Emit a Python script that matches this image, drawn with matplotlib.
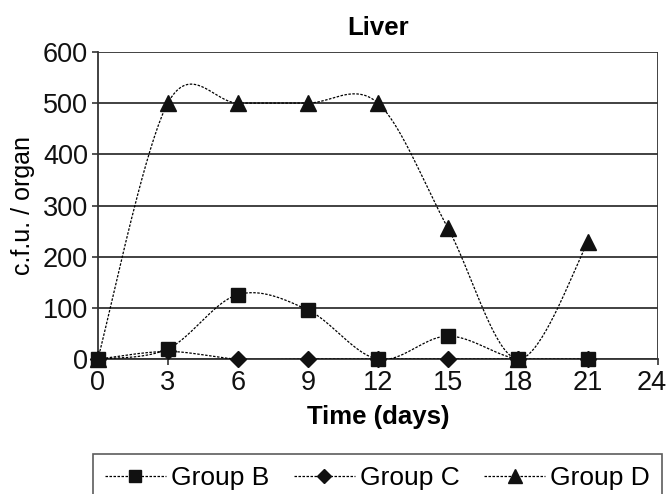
import matplotlib
matplotlib.use("Agg")
import matplotlib.pyplot as plt
from matplotlib.lines import Line2D
from matplotlib.transforms import ScaledTranslation
import numpy as np

plt.rcParams["font.family"] = ["Liberation Sans", "DejaVu Sans"]

days = [0, 3, 6, 9, 12, 15, 18, 21]
group_b = [0, 20, 126, 96, 0, 45, 0, 0]
group_c = [0, 15, 0, 0, 0, 0, 0, 0]
group_d = [0, 500, 500, 500, 500, 256, 0, 228]

series_names = ["Group B", "Group C", "Group D"]
series_markers = ["s", "D", "^"]
series_sizes = [10, 8, 12]


def smooth(x, y, n=40):
    """Excel-style smoothed line: Bezier segments with Catmull-Rom controls."""
    p = np.column_stack([x, y]).astype(float)
    p = np.vstack([p[0], p, p[-1]])
    out = []
    t = np.linspace(0, 1, n)[:, None]
    for i in range(1, len(p) - 2):
        p0, p3 = p[i], p[i + 1]
        c1 = p0 + (p[i + 1] - p[i - 1]) / 6.0
        c2 = p3 - (p[i + 2] - p[i]) / 6.0
        seg = ((1 - t) ** 3 * p0 + 3 * (1 - t) ** 2 * t * c1
               + 3 * (1 - t) * t ** 2 * c2 + t ** 3 * p3)
        out.append(seg if i == 1 else seg[1:])
    out = np.vstack(out)
    return out[:, 0], out[:, 1]


fig = plt.figure(figsize=(6.7, 4.94), dpi=100)
ax = fig.add_axes([0.146, 0.273, 0.836, 0.622])

dash = (0, (2.0, 1.2))
handles = []
for vals, name, mk, ms in zip([group_b, group_c, group_d], series_names,
                              series_markers, series_sizes):
    sx, sy = smooth(days, vals)
    ax.plot(sx, sy, color="black", lw=0.9, linestyle=dash, zorder=3)
    ax.plot(days, vals, linestyle="none", marker=mk, ms=ms,
            color="#111111", zorder=4, clip_on=False)
    handles.append(Line2D([], [], color="black", lw=0.9, linestyle=dash,
                          marker=mk, ms=ms * 0.85, markerfacecolor="#111111",
                          markeredgecolor="#111111", label=name))

ax.set_xlim(0, 24)
ax.set_ylim(0, 600)
ax.set_xticks(range(0, 25, 3))
ax.set_yticks(range(0, 601, 100))
ax.yaxis.grid(True, color="#333333", lw=1.3)
ax.set_axisbelow(True)

for side in ["top", "right"]:
    ax.spines[side].set_visible(False)
ax.axvline(24, color="#333333", lw=1.3, zorder=2)
for side in ["left", "bottom"]:
    ax.spines[side].set_color("#333333")
    ax.spines[side].set_linewidth(1.3)

ax.tick_params(axis="both", direction="out", length=4, width=1.2,
               color="#333333", labelsize=19.5, labelcolor="#111111")
ax.tick_params(axis="x", pad=4)
ax.tick_params(axis="y", pad=3)

# last x label is nudged left so it stays inside the figure
last = ax.get_xticklabels()[-1]
last.set_transform(last.get_transform()
                   + ScaledTranslation(-0.06, 0, fig.dpi_scale_trans))

ax.set_title("Liver", fontsize=18.5, fontweight="bold", pad=12)
ax.set_xlabel("Time (days)", fontsize=18.5, fontweight="bold", labelpad=6)
ax.set_ylabel("c.f.u. / organ", fontsize=18, labelpad=6)

leg = fig.legend(handles=handles, loc="upper left",
                 bbox_to_anchor=(0.139, 0.081, 0.849, 0), mode="expand",
                 borderaxespad=0, ncol=3, fontsize=19, frameon=True,
                 fancybox=False, handlelength=2.3, handletextpad=0.2,
                 columnspacing=0.8, borderpad=0.45)
leg.get_frame().set_edgecolor("#333333")
leg.get_frame().set_linewidth(1.2)

fig.savefig("out.png", dpi=100)
